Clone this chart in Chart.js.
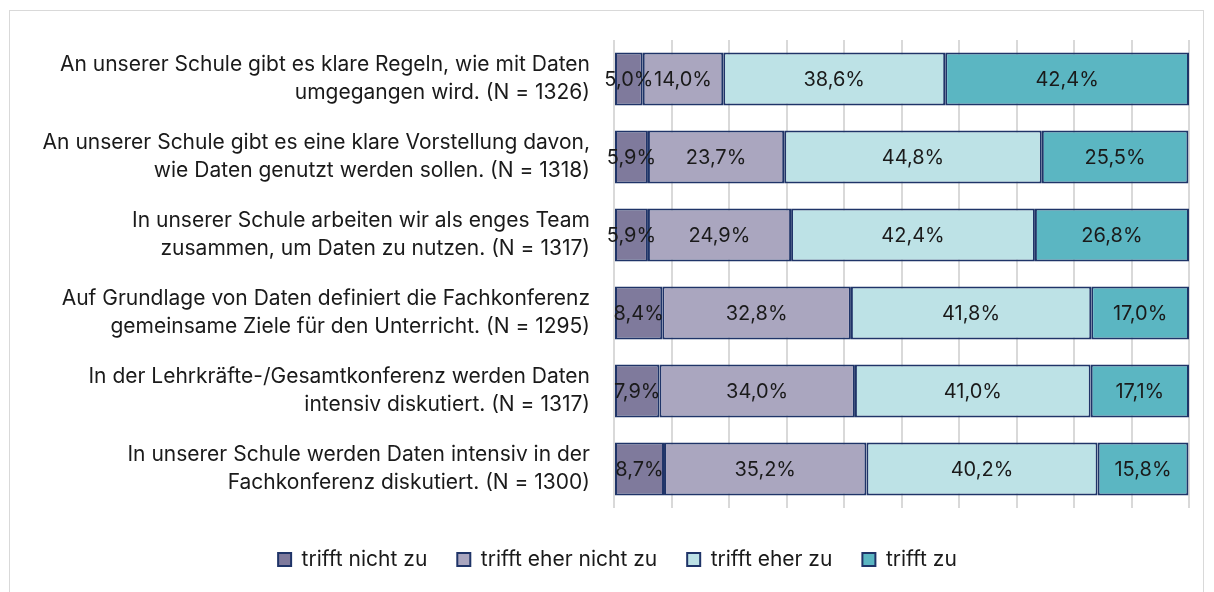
<!DOCTYPE html>
<html>
<head>
<meta charset="utf-8">
<script src="https://cdn.jsdelivr.net/npm/chart.js@4"></script>
<style>
  html, body { margin: 0; padding: 0; background: #fff; }
  #wrap { position: relative; width: 1214px; height: 592px; }
  #frame { position: absolute; left: 9px; top: 10px; width: 1195px; height: 590px; border: 1px solid #d9d9d9; box-sizing: border-box; }
  canvas { position: absolute; left: 0; top: 0; }
</style>
</head>
<body>
<div id="wrap">
  <div id="frame"></div>
  <canvas id="myChart" width="1214" height="592"></canvas>
</div>
<script>
const categories = [
  ["An unserer Schule gibt es klare Regeln, wie mit Daten", "umgegangen wird. (N = 1326)"],
  ["An unserer Schule gibt es eine klare Vorstellung davon,", "wie Daten genutzt werden sollen. (N = 1318)"],
  ["In unserer Schule arbeiten wir als enges Team", "zusammen, um Daten zu nutzen. (N = 1317)"],
  ["Auf Grundlage von Daten definiert die Fachkonferenz", "gemeinsame Ziele für den Unterricht. (N = 1295)"],
  ["In der Lehrkräfte-/Gesamtkonferenz werden Daten", "intensiv diskutiert. (N = 1317)"],
  ["In unserer Schule werden Daten intensiv in der", "Fachkonferenz diskutiert. (N = 1300)"]
];

const seriesNames = ["trifft nicht zu", "trifft eher nicht zu", "trifft eher zu", "trifft zu"];

const trifftNicht = [5.0, 5.9, 5.9, 8.4, 7.9, 8.7];
const eherNicht = [14.0, 23.7, 24.9, 32.8, 34.0, 35.2];
const eherZu = [38.6, 44.8, 42.4, 41.8, 41.0, 40.2];
const trifftZu = [42.4, 25.5, 26.8, 17.0, 17.1, 15.8];

const colors = ["#7f7a9c", "#aaa6bf", "#bde2e6", "#5bb6c2"];
const borderColor = "#1f3468";
const fontFamily = "Inter, 'Open Sans', sans-serif";

const formatPct = (v) => v.toFixed(1).replace(".", ",") + "%";

// draws the value in the middle of every bar segment
const segmentLabels = {
  id: "segmentLabels",
  afterLayout(chart) {
    // legend sits a bit right of the canvas centre in the original
    chart.legend.left += 23;
    chart.legend.right += 23;
  },
  afterDatasetsDraw(chart) {
    const ctx = chart.ctx;
    ctx.save();
    ctx.font = "20px " + fontFamily;
    ctx.fillStyle = "#1a1a1a";
    ctx.textAlign = "center";
    ctx.textBaseline = "middle";
    chart.data.datasets.forEach((ds, i) => {
      chart.getDatasetMeta(i).data.forEach((bar, j) => {
        const x = (bar.x + bar.base) / 2;
        ctx.fillText(formatPct(ds.data[j]), x, bar.y + 1);
      });
    });
    ctx.restore();
  }
};

const allSeries = [trifftNicht, eherNicht, eherZu, trifftZu];

const ctx = document.getElementById("myChart").getContext("2d");
new Chart(ctx, {
  type: "bar",
  data: {
    labels: categories,
    datasets: allSeries.map((values, i) => ({
      label: seriesNames[i],
      data: values,
      backgroundColor: colors[i],
      borderColor: borderColor,
      borderWidth: 2,
      borderSkipped: false,
      categoryPercentage: 0.68,
      barPercentage: 1
    }))
  },
  options: {
    indexAxis: "y",
    responsive: false,
    animation: false,
    layout: { padding: { top: 40, right: 25, left: 0, bottom: 12 } },
    scales: {
      x: {
        stacked: true,
        min: 0,
        max: 100,
        ticks: { display: false, stepSize: 10 },
        border: { display: false },
        grid: { color: "#d9d9d9", lineWidth: 2, drawTicks: false },
        afterFit(scale) { scale.height = 11; }
      },
      y: {
        stacked: true,
        grid: { display: false },
        border: { display: false },
        ticks: {
          color: "#1a1a1a",
          padding: 16,
          font: { family: fontFamily, size: 21, lineHeight: 1.33 }
        },
        afterFit(scale) {
          scale.width = 614;
          // labels may overhang the plot, keep the plot height fixed
          scale.paddingTop = 0;
          scale.paddingBottom = 0;
        }
      }
    },
    plugins: {
      legend: {
        position: "bottom",
        labels: {
          boxWidth: 13,
          boxHeight: 13,
          padding: 30,
          color: "#1a1a1a",
          font: { family: fontFamily, size: 21 }
        }
      },
      tooltip: { enabled: false }
    }
  },
  plugins: [segmentLabels]
});
</script>
</body>
</html>
